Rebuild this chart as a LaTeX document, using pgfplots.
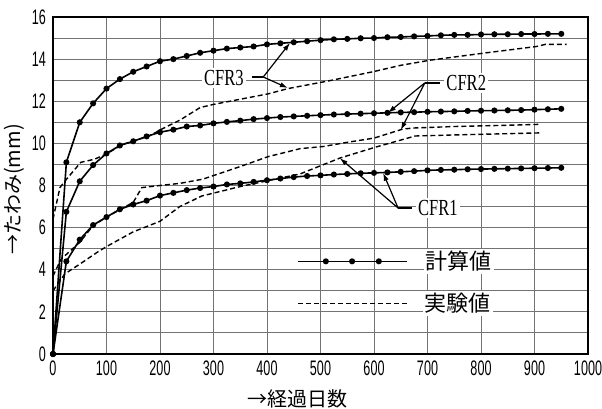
\documentclass[border=0pt]{standalone}
\usepackage{fontspec}
\setmainfont{Liberation Serif}
\newfontfamily\cjk{Noto Sans CJK JP}
\newfontfamily\narrow[FakeStretch=0.6]{Liberation Sans}
\newfontfamily\cfr[FakeStretch=0.72]{Liberation Serif}
\usepackage{pgfplots}
\pgfplotsset{compat=1.18}
\usetikzlibrary{arrows.meta}

\pgfplotsset{
  calc/.style={black,line width=0.8pt,mark=*,mark size=1.1pt,mark options={solid}},
  expt/.style={black,line width=0.7pt,dash pattern=on 2.5pt off 1.5pt,no marks},
}
\tikzset{
  lab/.style={font=\cfr\fontsize{11.5}{12}\selectfont,fill=white,inner sep=1pt},
  ptr/.style={black,line width=0.6pt,-{Latex[length=4pt,width=2.6pt]}},
}

\begin{document}
\begin{tikzpicture}
\begin{axis}[
  scale only axis,width=267.5pt,height=168.5pt,
  xmin=0,xmax=1000,ymin=0,ymax=16,
  xtick={0,100,...,1000},ytick={0,2,...,16},minor ytick={1,3,...,15},
  grid=both,
  major grid style={draw=black!55,line width=0.5pt},
  minor grid style={draw=black!55,line width=0.5pt},
  major tick length=0pt,minor tick length=0pt,
  axis line style={line width=0.9pt},
  tick label style={font=\narrow\fontsize{10.5}{12}\selectfont},
  /pgf/number format/assume math mode=true,
  /pgf/number format/1000 sep={},
  xlabel={→経過日数},ylabel={→たわみ(mm)},
  xlabel style={font=\cjk\fontsize{10}{12}\selectfont,xshift=-11.5pt},
  ylabel style={font=\cjk\fontsize{10}{12}\selectfont,yshift=-3pt,xshift=-2pt},
]
% calculated values
\addplot[calc] coordinates {
 (0,0)(25,9.1)(50,11.0)(75,11.9)(100,12.6)(125,13.05)(150,13.4)(175,13.65)
 (200,13.9)(225,14.0)(250,14.15)(275,14.3)(300,14.4)(325,14.5)(350,14.55)
 (375,14.6)(400,14.7)(425,14.75)(450,14.8)(475,14.85)(500,14.9)(525,14.94)
 (550,14.96)(575,14.99)(600,15.0)(625,15.04)(650,15.05)(675,15.08)(700,15.1)
 (725,15.13)(750,15.15)(775,15.15)(800,15.17)(825,15.18)(850,15.18)(875,15.19)
 (900,15.19)(925,15.2)(950,15.2)};
\addplot[calc] coordinates {
 (0,0)(25,6.75)(50,8.2)(75,8.97)(100,9.52)(125,9.9)(150,10.1)(175,10.33)
 (200,10.53)(225,10.65)(250,10.8)(275,10.85)(300,10.95)(325,11.02)(350,11.08)
 (375,11.15)(400,11.2)(425,11.25)(450,11.28)(475,11.31)(500,11.34)(525,11.37)
 (550,11.39)(575,11.41)(600,11.43)(625,11.45)(650,11.47)(675,11.48)(700,11.5)
 (725,11.51)(750,11.52)(775,11.54)(800,11.55)(825,11.56)(850,11.57)(875,11.58)
 (900,11.6)(925,11.62)(950,11.64)};
\addplot[calc] coordinates {
 (0,0)(25,4.4)(50,5.43)(75,6.12)(100,6.5)(125,6.87)(150,7.1)(175,7.28)
 (200,7.52)(225,7.65)(250,7.78)(275,7.88)(300,7.95)(325,8.05)(350,8.1)
 (375,8.17)(400,8.25)(425,8.33)(450,8.4)(475,8.45)(500,8.48)(525,8.52)
 (550,8.55)(575,8.58)(600,8.6)(625,8.62)(650,8.65)(675,8.68)(700,8.72)
 (725,8.74)(750,8.75)(775,8.77)(800,8.78)(825,8.79)(850,8.8)(875,8.81)
 (900,8.82)(925,8.83)(950,8.84)};
% experimental values
\addplot[expt] coordinates {
 (0,6.4)(13,7.9)(22,8.2)(52,9.1)(78,9.25)(100,9.5)(130,9.95)(180,10.35)
 (205,10.7)(237,11.1)(275,11.7)(300,11.85)(402,12.35)(439,12.6)(512,12.95)
 (598,13.4)(649,13.7)(705,13.95)(804,14.28)(904,14.6)(920,14.7)(960,14.7)};
\addplot[expt] coordinates {
 (0,3.7)(15,4.5)(50,5.3)(75,6.1)(100,6.5)(125,6.85)(150,7.2)(166,7.9)
 (200,8.0)(237,8.1)(280,8.3)(350,8.9)(402,9.37)(462,9.75)(505,9.85)
 (550,10.05)(600,10.25)(654,10.68)(675,10.73)(750,10.8)(850,10.86)(907,10.9)};
\addplot[expt] coordinates {
 (0,3.0)(22,3.8)(52,4.3)(84,4.85)(100,5.1)(150,5.8)(200,6.3)(237,7.0)
 (278,7.5)(350,7.95)(424,8.35)(462,8.55)(536,9.3)(600,9.8)(649,10.15)
 (677,10.35)(750,10.4)(850,10.46)(914,10.5)};
% legend samples
\addplot[calc,mark indices={2,3,4}] coordinates {(458,4.4)(510,4.4)(559,4.4)(609,4.4)(662,4.4)};
\addplot[expt] coordinates {(458,2.4)(662,2.4)};
\node[anchor=west,font=\cjk\fontsize{11}{12}\selectfont,fill=white,inner sep=1pt] at (axis cs:692,4.4) {計算値};
\node[anchor=west,font=\cjk\fontsize{11}{12}\selectfont,fill=white,inner sep=1pt] at (axis cs:690,2.4) {実験値};
% labels with pointers
\node[lab,anchor=west] at (axis cs:278,13.1) {CFR3};
\draw[black,line width=0.6pt] (axis cs:372,13.15) -- (axis cs:393,13.15);
\draw[ptr] (axis cs:393,13.15) -- (axis cs:443,14.77);
\draw[ptr] (axis cs:393,13.15) -- (axis cs:439,12.63);
\node[lab,anchor=west] at (axis cs:731,12.87) {CFR2};
\draw[black,line width=0.6pt] (axis cs:723,12.87) -- (axis cs:695,12.87);
\draw[ptr] (axis cs:695,12.87) -- (axis cs:626,11.45);
\draw[ptr] (axis cs:695,12.87) -- (axis cs:650,10.63);
\node[lab,anchor=west] at (axis cs:678,6.93) {CFR1};
\draw[black,line width=0.6pt] (axis cs:671,6.93) -- (axis cs:645,6.93);
\draw[ptr] (axis cs:645,6.93) -- (axis cs:536,9.3);
\draw[ptr] (axis cs:645,6.93) -- (axis cs:617,8.6);
\coordinate (ll) at (rel axis cs:0,0);
\coordinate (ur) at (rel axis cs:1,1);
\end{axis}
\pgfresetboundingbox
\path ([shift={(-26.5pt,-27.5pt)}]ll) rectangle ([shift={(7pt,8.5pt)}]ur);
\end{tikzpicture}
\end{document}
